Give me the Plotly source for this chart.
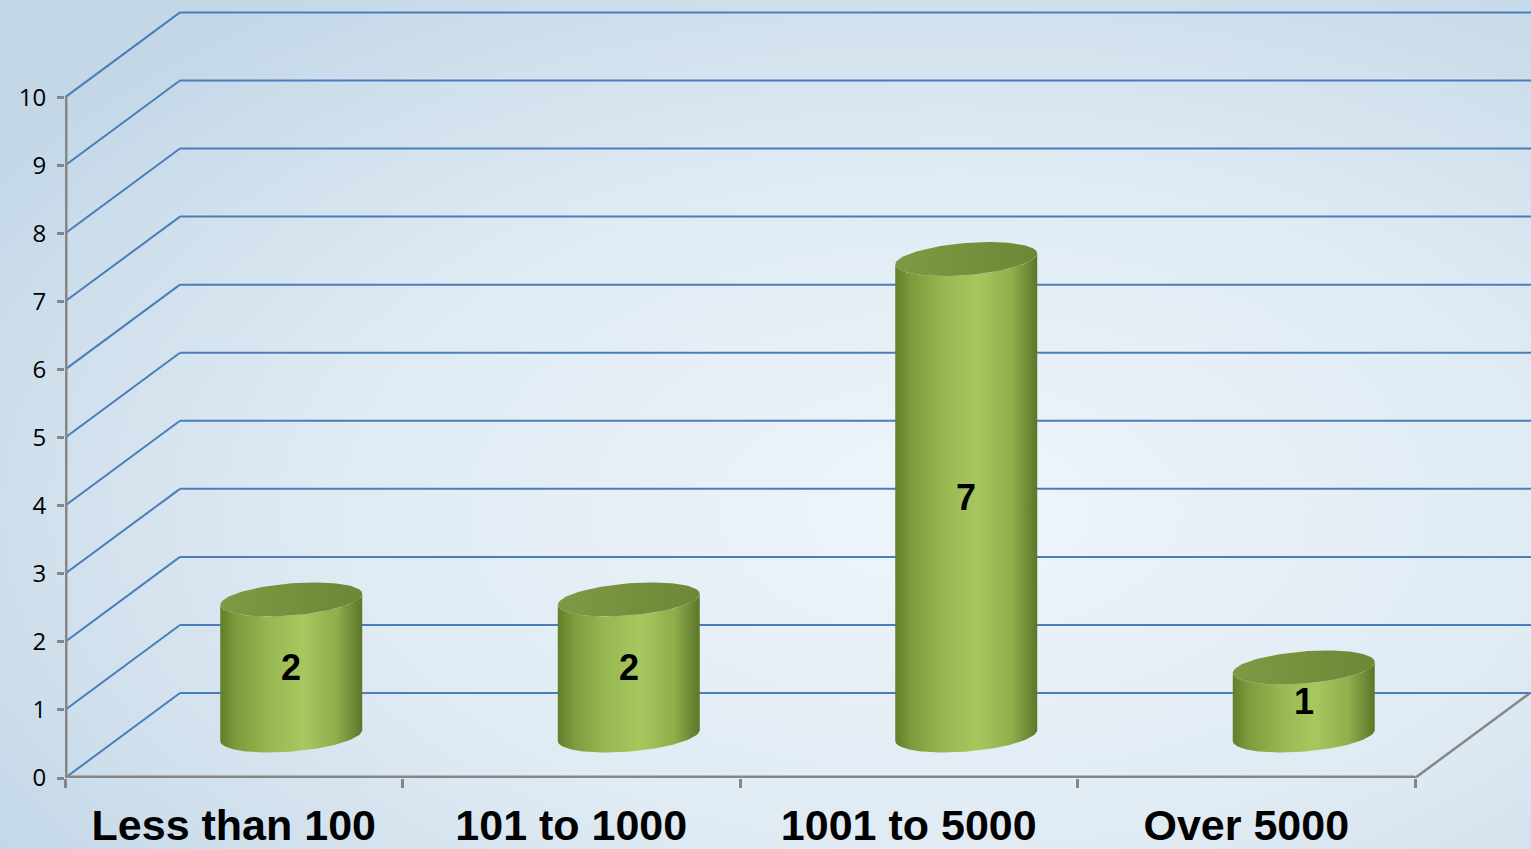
import numpy as np
import plotly.graph_objects as go

# Chart data
categories = ["Less than 100", "101 to 1000", "1001 to 5000", "Over 5000"]
counts = [2, 2, 7, 1]
y_ticks = list(range(0, 11))

# Oblique 3D projection: depth d in [0, 1] shifts points right (DX) and up (DY)
DX = 0.3407
DY = 1.248
X_MAX = 1466 / 337.5
Y_MAX = 11.43

R_X = 0.199   # cylinder radius along category axis
R_D = 0.20    # cylinder radius along depth axis

GRID = "#4a7ebb"
AXIS = "#868686"


def project(x, v, d):
    return x + d * DX, v + d * DY


def ellipse(cx, v, t):
    x = cx + R_X * np.cos(t)
    d = 0.5 + R_D * np.sin(t)
    return project(x, v, d)


fig = go.Figure()

# Walls: side wall diagonals and back wall gridlines
shapes = []
for k in y_ticks:
    x0, y0 = project(0, k, 0)
    x1, y1 = project(0, k, 1)
    shapes.append(dict(type="line", xref="x", yref="y", x0=x0, y0=y0, x1=x1, y1=y1,
                       line=dict(color=GRID, width=2), layer="below"))
    shapes.append(dict(type="line", xref="x", yref="y", x0=x1, y0=y1, x1=X_MAX + 0.1, y1=y1,
                       line=dict(color=GRID, width=2), layer="below"))

# Floor front edge, right edge and the vertical axis line
# (the edge lines sit on the plot-area border, so half of their width is clipped)
n = len(categories)
fx1, fy1 = project(n, 0, 1)
shapes += [
    dict(type="line", xref="x", yref="y", x0=0, y0=0, x1=n, y1=0,
         line=dict(color=AXIS, width=5)),
    dict(type="line", xref="x", yref="y", x0=n, y0=0, x1=fx1, y1=fy1,
         line=dict(color=AXIS, width=2.5)),
    dict(type="line", xref="x", yref="y", x0=0, y0=0, x1=0, y1=max(y_ticks),
         line=dict(color=AXIS, width=5)),
]

# Cylinders
t_r = np.arctan2(R_D * DX, R_X)
t_l = t_r + np.pi
arc = np.linspace(t_l, t_r + 2 * np.pi, 80)   # lower half between silhouette points
full = np.linspace(0, 2 * np.pi, 120)

for i, (cat, val) in enumerate(zip(categories, counts)):
    cx = i + 0.5
    bx, by = ellipse(cx, 0, arc)
    tx, ty = ellipse(cx, val, arc[::-1])
    body_x = np.concatenate([bx, tx])
    body_y = np.concatenate([by, ty])
    fig.add_trace(go.Scatter(
        x=body_x, y=body_y, mode="lines", fill="toself",
        line=dict(width=0, color="rgba(0,0,0,0)"),
        fillgradient=dict(type="horizontal", colorscale=[
            [0.0, "#627f2a"], [0.12, "#7f9c3e"], [0.35, "#98b952"],
            [0.58, "#a7c85f"], [0.82, "#8fae4c"], [1.0, "#5c7628"]]),
        hoverinfo="skip", showlegend=False))
    ex, ey = ellipse(cx, val, full)
    fig.add_trace(go.Scatter(
        x=ex, y=ey, mode="lines", fill="toself",
        line=dict(width=0, color="rgba(0,0,0,0)"),
        fillgradient=dict(type="horizontal", colorscale=[
            [0.0, "#7e9a44"], [0.5, "#76913d"], [1.0, "#6c8736"]]),
        hoverinfo="skip", showlegend=False))

# Value labels in the middle of each cylinder
annotations = []
for i, val in enumerate(counts):
    lx, ly = project(i + 0.5, val / 2, 0.5)
    annotations.append(dict(x=lx, y=ly, xref="x", yref="y", text=str(val), showarrow=False,
                            font=dict(family="Liberation Sans", size=36, color="black",
                                      weight="bold")))

# Boundary tick marks for the category axis
fig.add_trace(go.Scatter(x=[0, n], y=[0, 0], xaxis="x2", mode="lines",
                         line=dict(width=0), hoverinfo="skip", showlegend=False))

bg_svg = (
    "data:image/svg+xml;utf8,"
    "<svg xmlns='http://www.w3.org/2000/svg' width='1531' height='849' "
    "preserveAspectRatio='none'>"
    "<defs><radialGradient id='g' cx='0.62' cy='0.6' r='0.75'>"
    "<stop offset='0' stop-color='%23eff5fa'/>"
    "<stop offset='0.55' stop-color='%23dfeaf3'/>"
    "<stop offset='1' stop-color='%23c3d7e7'/>"
    "</radialGradient></defs>"
    "<rect width='1531' height='849' fill='url(%23g)'/></svg>"
)

fig.update_layout(
    width=1531, height=849,
    margin=dict(l=65, r=0, t=0, b=71),
    paper_bgcolor="#dce8f2",
    plot_bgcolor="rgba(0,0,0,0)",
    shapes=shapes,
    annotations=annotations,
    images=[dict(source=bg_svg, xref="paper", yref="paper",
                 x=-65 / 1466, y=1.0, sizex=1531 / 1466, sizey=849 / 778,
                 xanchor="left", yanchor="top", sizing="stretch", layer="below")],
    xaxis=dict(range=[0, X_MAX], tickvals=[i + 0.5 for i in range(n)], ticktext=categories,
               ticks="", showgrid=False, zeroline=False, showline=False, automargin=False,
               tickfont=dict(family="Liberation Sans", size=43, color="black", weight="bold"),
               ticklabelstandoff=18),
    xaxis2=dict(range=[0, X_MAX], overlaying="x", side="bottom", anchor="y",
                tickvals=list(range(n + 1)), ticks="outside", ticklen=9, tickwidth=2.5,
                tickcolor=AXIS, showticklabels=False, showgrid=False, zeroline=False,
                showline=False, automargin=False),
    yaxis=dict(range=[0, Y_MAX], tickvals=y_ticks, ticks="outside", ticklen=7, tickwidth=2.5,
               tickcolor=AXIS, showgrid=False, zeroline=False, showline=False,
               ticklabelstandoff=6, automargin=False,
               tickfont=dict(family="Open Sans", size=24, color="black")),
    showlegend=False,
)

fig.write_html("out.html")
